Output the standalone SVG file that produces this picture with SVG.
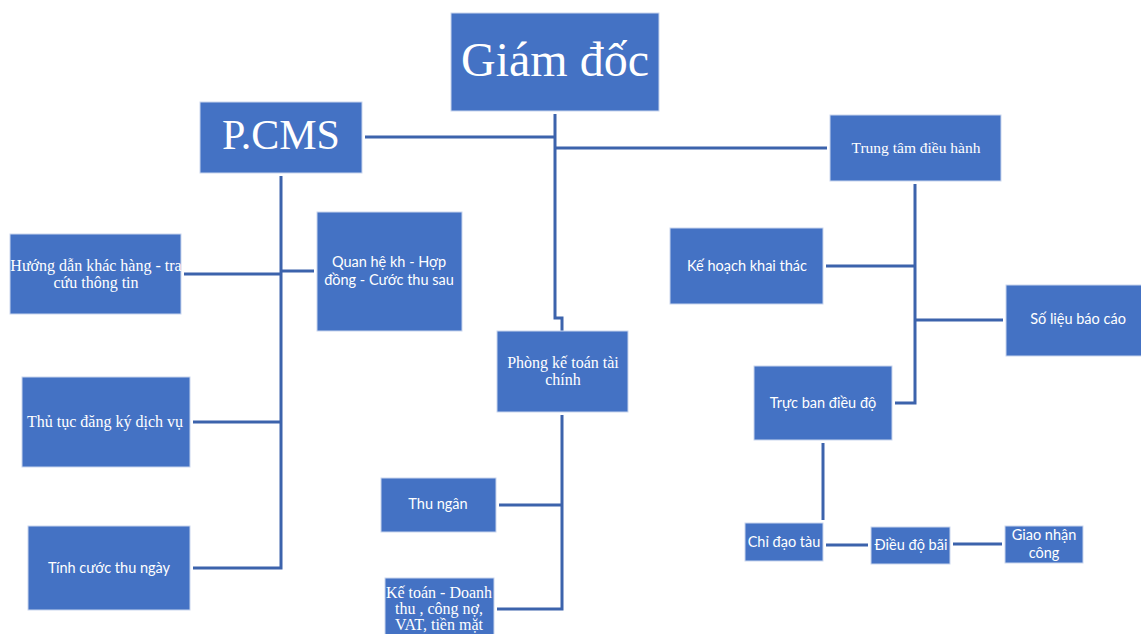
<svg xmlns="http://www.w3.org/2000/svg" width="1141" height="634" viewBox="0 0 1141 634">
<style>
.box{fill:#4472C4;stroke:#C9D6EE;stroke-width:1}
.ln{fill:none;stroke:#3C63AC;stroke-width:3}
.se{font-family:"Liberation Serif","DejaVu Serif",serif;fill:#fff;text-anchor:middle}
.sm{font-size:16px}
.sa{font-family:Lato,"Liberation Sans",sans-serif;fill:#fff;text-anchor:middle;font-size:14.5px}
</style>
<rect width="1141" height="634" fill="#fff"/>
<g id="connectors">
<path class="ln" d="M555 114V318H562V331"/>
<path class="ln" d="M365 137H555"/>
<path class="ln" d="M555 148H827"/>
<path class="ln" d="M915 184V403H895"/>
<path class="ln" d="M826 266H915"/>
<path class="ln" d="M915 320H1003"/>
<path class="ln" d="M823 443V520"/>
<path class="ln" d="M826 545H868"/>
<path class="ln" d="M953 544H1002"/>
<path class="ln" d="M281 176V568H193"/>
<path class="ln" d="M184 274H281"/>
<path class="ln" d="M281 271H314"/>
<path class="ln" d="M193 422H281"/>
<path class="ln" d="M562 415V609H497"/>
<path class="ln" d="M499 505H562"/>
</g>
<g id="giam-doc"><rect class="box" x="451" y="13" width="208" height="98"/><text class="se" x="555" y="76" font-size="48">Giám đốc</text></g>
<g id="pcms"><rect class="box" x="200" y="102" width="162" height="71"/><text class="se" x="281" y="149" font-size="42">P.CMS</text></g>
<g id="trung-tam"><rect class="box" x="830" y="115" width="171" height="66"/><text class="se" x="916" y="153" font-size="15.5">Trung tâm điều hành</text></g>
<g id="huong-dan"><rect class="box" x="10" y="234" width="171" height="80"/><text class="se sm" x="96" y="271">Hướng dẫn khác hàng - tra</text><text class="se sm" x="96" y="288">cứu thông tin</text></g>
<g id="quan-he"><rect class="box" x="317" y="212" width="145" height="119"/><text class="sa" x="389" y="267">Quan hệ kh - Hợp</text><text class="sa" x="389" y="285">đồng - Cước thu sau</text></g>
<g id="thu-tuc"><rect class="box" x="22" y="377" width="168" height="90"/><text class="se sm" x="105" y="427">Thủ tục đăng ký dịch vụ</text></g>
<g id="tinh-cuoc"><rect class="box" x="28" y="526" width="162" height="84"/><text class="sa" x="109" y="573">Tính cước thu ngày</text></g>
<g id="phong-ke-toan"><rect class="box" x="497" y="331" width="131" height="81"/><text class="se sm" x="563" y="368">Phòng kế toán tài</text><text class="se sm" x="563" y="385">chính</text></g>
<g id="thu-ngan"><rect class="box" x="381" y="478" width="115" height="54"/><text class="sa" x="438" y="509">Thu ngân</text></g>
<g id="ke-toan"><rect class="box" x="385" y="578" width="109" height="60"/><text class="se sm" x="439" y="598">Kế toán - Doanh</text><text class="se sm" x="439" y="614">thu , công nợ,</text><text class="se sm" x="439" y="630">VAT, tiền mặt</text></g>
<g id="ke-hoach"><rect class="box" x="670" y="228" width="153" height="76"/><text class="sa" x="747" y="271">Kế hoạch khai thác</text></g>
<g id="so-lieu"><rect class="box" x="1006" y="285" width="138" height="71"/><text class="sa" x="1078" y="324">Số liệu báo cáo</text></g>
<g id="truc-ban"><rect class="box" x="754" y="366" width="138" height="74"/><text class="sa" x="823" y="408">Trực ban điều độ</text></g>
<g id="chi-dao"><rect class="box" x="745" y="523" width="78" height="38"/><text class="sa" x="784" y="547">Chỉ đạo tàu</text></g>
<g id="dieu-do-bai"><rect class="box" x="871" y="527" width="79" height="37"/><text class="sa" x="911" y="550">Điều độ bãi</text></g>
<g id="giao-nhan"><rect class="box" x="1005" y="526" width="78" height="37"/><text class="sa" x="1044" y="540">Giao nhận</text><text class="sa" x="1044" y="558">công</text></g>
</svg>
